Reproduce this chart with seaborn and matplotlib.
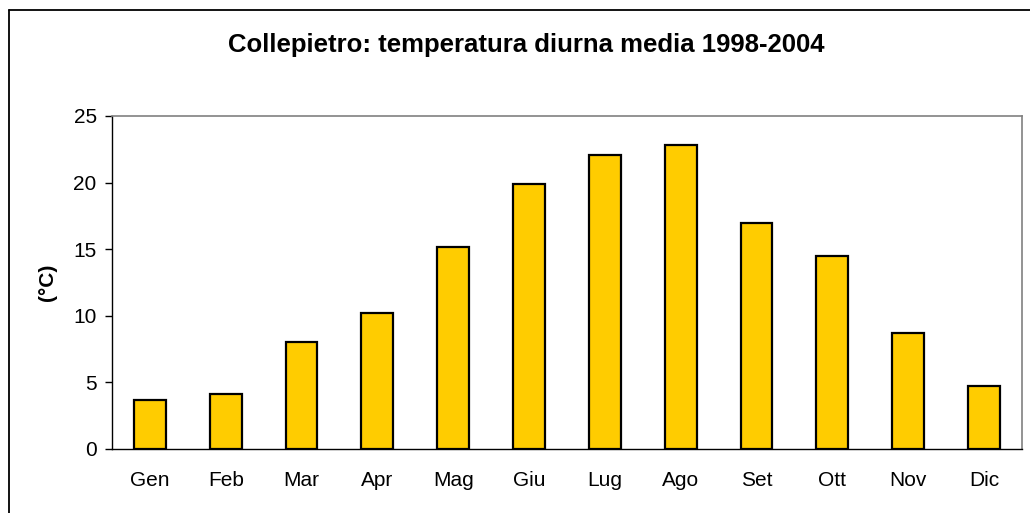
import matplotlib
matplotlib.use("Agg")
import matplotlib.pyplot as plt
import seaborn as sns
import numpy as np
from matplotlib.lines import Line2D

months = ["Gen", "Feb", "Mar", "Apr", "Mag", "Giu", "Lug", "Ago", "Set", "Ott", "Nov", "Dic"]
temps = [3.7, 4.1, 8.0, 10.2, 15.2, 19.9, 22.1, 22.8, 17.0, 14.5, 8.7, 4.7]
yticks = [0, 5, 10, 15, 20, 25]

sns.set_style("white")
plt.rcParams['font.family'] = ['Liberation Sans', 'DejaVu Sans']
plt.rcParams['text.color'] = 'black'
plt.rcParams['xtick.color'] = 'black'
plt.rcParams['ytick.color'] = 'black'
plt.rcParams['axes.labelcolor'] = 'black'

fig = plt.figure(figsize=(10.3, 5.13), dpi=100)
ax = fig.add_axes([0.1087, 0.1248, 0.8835, 0.6491])

sns.barplot(x=months, y=temps, color="#FFCC00", edgecolor="black",
            linewidth=1.6, width=0.42, ax=ax, saturation=1)

ax.set_xlim(-0.5, 11.5)
ax.set_ylim(0, 25)
ax.set_yticks(yticks)
ax.set_yticklabels([str(v) for v in yticks], fontsize=15)
ax.set_xticks(range(len(months)))
ax.set_xticklabels(months, fontsize=15)
ax.set_xticks(np.arange(-0.5, 12, 1), minor=True)
ax.tick_params(axis='x', which='major', length=0, pad=16)
ax.tick_params(axis='x', which='minor', length=5, width=1, color='black', direction='out')
ax.tick_params(axis='y', which='major', length=5, width=1, color='black', direction='out', left=True, pad=6)

for side in ['left', 'bottom']:
    ax.spines[side].set_color('black')
    ax.spines[side].set_linewidth(1.0)
for side in ['top', 'right']:
    ax.spines[side].set_visible(True)
    ax.spines[side].set_color('#808080')
    ax.spines[side].set_linewidth(1.2)

ax.set_ylabel("(°C)", fontsize=15, fontweight='bold', labelpad=12)
ax.set_xlabel("")

fig.text(0.5107, 0.899, "Collepietro: temperatura diurna media 1998-2004",
         ha='center', va='baseline', fontsize=18.5, fontweight='bold')

x0 = 8.5 / 1030
y0 = 1 - 9.5 / 513
fig.add_artist(Line2D([x0, 1.0], [y0, y0], transform=fig.transFigure, color='black', linewidth=1.3))
fig.add_artist(Line2D([x0, x0], [0.0, y0], transform=fig.transFigure, color='black', linewidth=1.3))

fig.savefig("out.png", dpi=100)
